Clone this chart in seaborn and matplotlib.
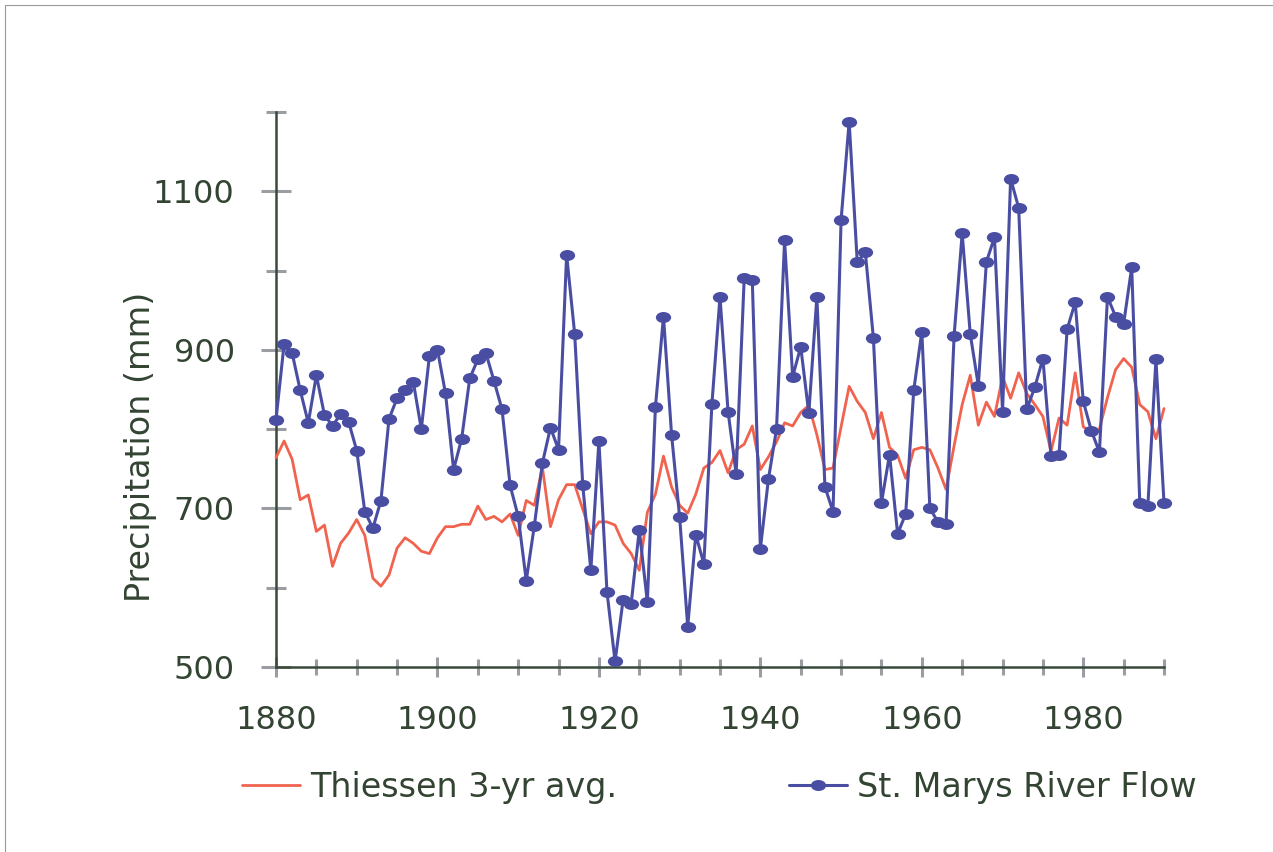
import matplotlib
matplotlib.use("Agg")

import numpy as np
import pandas as pd
import matplotlib.pyplot as plt
import seaborn as sns
from matplotlib.path import Path
from matplotlib.patches import Rectangle
from matplotlib.ticker import FixedLocator, MultipleLocator

# ─────────────────────────────────────────────────────────────
# DATA
# ─────────────────────────────────────────────────────────────
years = list(range(1880, 1991))

river_flow = [
    812, 907, 896, 849, 808, 868, 818, 804, 819, 809,    # 1880s
    773, 696, 675, 710, 813, 839, 849, 860, 800, 892,    # 1890s
    900, 845, 749, 788, 864, 888, 896, 861, 825, 729,    # 1900s
    690, 609, 678, 757, 802, 774, 1020, 920, 729, 622,   # 1910s
    785, 595, 507, 585, 580, 673, 582, 828, 942, 793,    # 1920s
    689, 551, 667, 630, 832, 967, 822, 744, 991, 988,    # 1930s
    649, 737, 800, 1038, 866, 904, 820, 967, 727, 696,   # 1940s
    1064, 1188, 1011, 1023, 915, 707, 768, 668, 693, 849,  # 1950s
    923, 700, 683, 680, 918, 1047, 920, 855, 1011, 1042,  # 1960s
    822, 1116, 1079, 825, 853, 889, 766, 768, 926, 960,   # 1970s
    835, 798, 771, 967, 942, 933, 1004, 707, 703, 888,    # 1980s
    707,                                                  # 1990
]

thiessen_3yr = [
    764, 785, 762, 711, 717, 671, 679, 627, 656, 669,
    686, 666, 612, 602, 616, 650, 663, 656, 646, 643,
    663, 677, 677, 680, 680, 703, 686, 690, 683, 693,
    666, 710, 704, 752, 677, 711, 730, 730, 699, 668,
    683, 683, 679, 656, 643, 622, 695, 718, 766, 727,
    704, 694, 718, 751, 758, 773, 745, 774, 781, 804,
    749, 765, 784, 808, 804, 821, 830, 793, 749, 751,
    803, 854, 835, 821, 788, 821, 777, 767, 738, 774,
    777, 774, 751, 724, 779, 831, 868, 805, 834, 816,
    866, 839, 871, 845, 831, 816, 772, 814, 805, 871,
    803, 796, 800, 840, 875, 889, 878, 831, 822, 788,
    826,
]

x_major = [1880, 1900, 1920, 1940, 1960, 1980]
y_major = [500, 700, 900, 1100]
y_minor = [600, 800, 1000, 1200]

label_red = "Thiessen 3-yr avg."
label_blue = "St. Marys River Flow"
y_title = "Precipitation (mm)"

df = pd.DataFrame({"year": years, "flow": river_flow, "thiessen": thiessen_3yr})

# ─────────────────────────────────────────────────────────────
# STYLE
# ─────────────────────────────────────────────────────────────
sns.set_style("white")
plt.rcParams["font.family"] = ["DejaVu Sans"]

TEXT = "#334433"
SPINE = "#3a4a3a"
TICK = "#9a9da1"
RED = "#f0634f"
BLUE = "#4a4ea3"

# flattened ellipse marker (the original chart is horizontally stretched)
circle = Path.unit_circle()
ellipse = Path(circle.vertices * np.array([1.0, 0.72]), circle.codes)

fig = plt.figure(figsize=(12.73, 8.52), dpi=100)
ax = fig.add_axes([276 / 1273, (852 - 667) / 852, 888 / 1273, 555 / 852])

sns.lineplot(data=df, x="year", y="thiessen", ax=ax, color=RED,
             linewidth=2.0, label=label_red, clip_on=False)
sns.lineplot(data=df, x="year", y="flow", ax=ax, color=BLUE,
             linewidth=2.2, marker=ellipse, markersize=11,
             markeredgewidth=0, label=label_blue, clip_on=False)

ax.set_xlim(1880, 1990)
ax.set_ylim(500, 1200)

ax.xaxis.set_major_locator(FixedLocator(x_major))
ax.xaxis.set_minor_locator(MultipleLocator(5))
ax.yaxis.set_major_locator(FixedLocator(y_major))
ax.yaxis.set_minor_locator(FixedLocator(y_minor))

ax.tick_params(axis="x", which="both", bottom=True, top=False)
ax.tick_params(axis="y", which="both", left=True, right=False)
ax.tick_params(axis="x", which="major", direction="inout", length=15,
               width=2.2, color=TICK, pad=20, labelsize=23, labelcolor=TEXT)
ax.tick_params(axis="x", which="minor", direction="inout", length=11.5,
               width=2.2, color=TICK)
ax.tick_params(axis="y", which="major", direction="inout", length=21.5,
               width=2.2, color=TICK, pad=19, labelsize=23, labelcolor=TEXT)
ax.tick_params(axis="y", which="minor", direction="inout", length=15,
               width=2.2, color=TICK)

for side in ["top", "right"]:
    ax.spines[side].set_visible(False)
for side in ["left", "bottom"]:
    ax.spines[side].set_color(SPINE)
    ax.spines[side].set_linewidth(1.8)
    ax.spines[side].set_zorder(1)

ax.set_xlabel("")
ax.set_ylabel(y_title, fontsize=24, color=TEXT)
ax.yaxis.set_label_coords(-0.153, 0.396)
ax.yaxis.label.set_verticalalignment("center")

handles, labels = ax.get_legend_handles_labels()
if ax.get_legend() is not None:
    ax.get_legend().remove()
leg = fig.legend(handles, labels, loc="center left",
                 bbox_to_anchor=(242 / 1273, 1 - 787 / 852),
                 ncol=2, frameon=False, fontsize=24, borderpad=0,
                 borderaxespad=0, handlelength=1.75, handletextpad=0.3,
                 columnspacing=5.15, numpoints=1)
for t in leg.get_texts():
    t.set_color(TEXT)

# thin frame round the slide (only left/top edges visible)
fig.add_artist(Rectangle((5 / 1273, -0.05), 1.2, 0.05 + 847 / 852,
                         transform=fig.transFigure, fill=False,
                         edgecolor="#9a9a9a", linewidth=0.8))

fig.savefig("out.png", dpi=100)
